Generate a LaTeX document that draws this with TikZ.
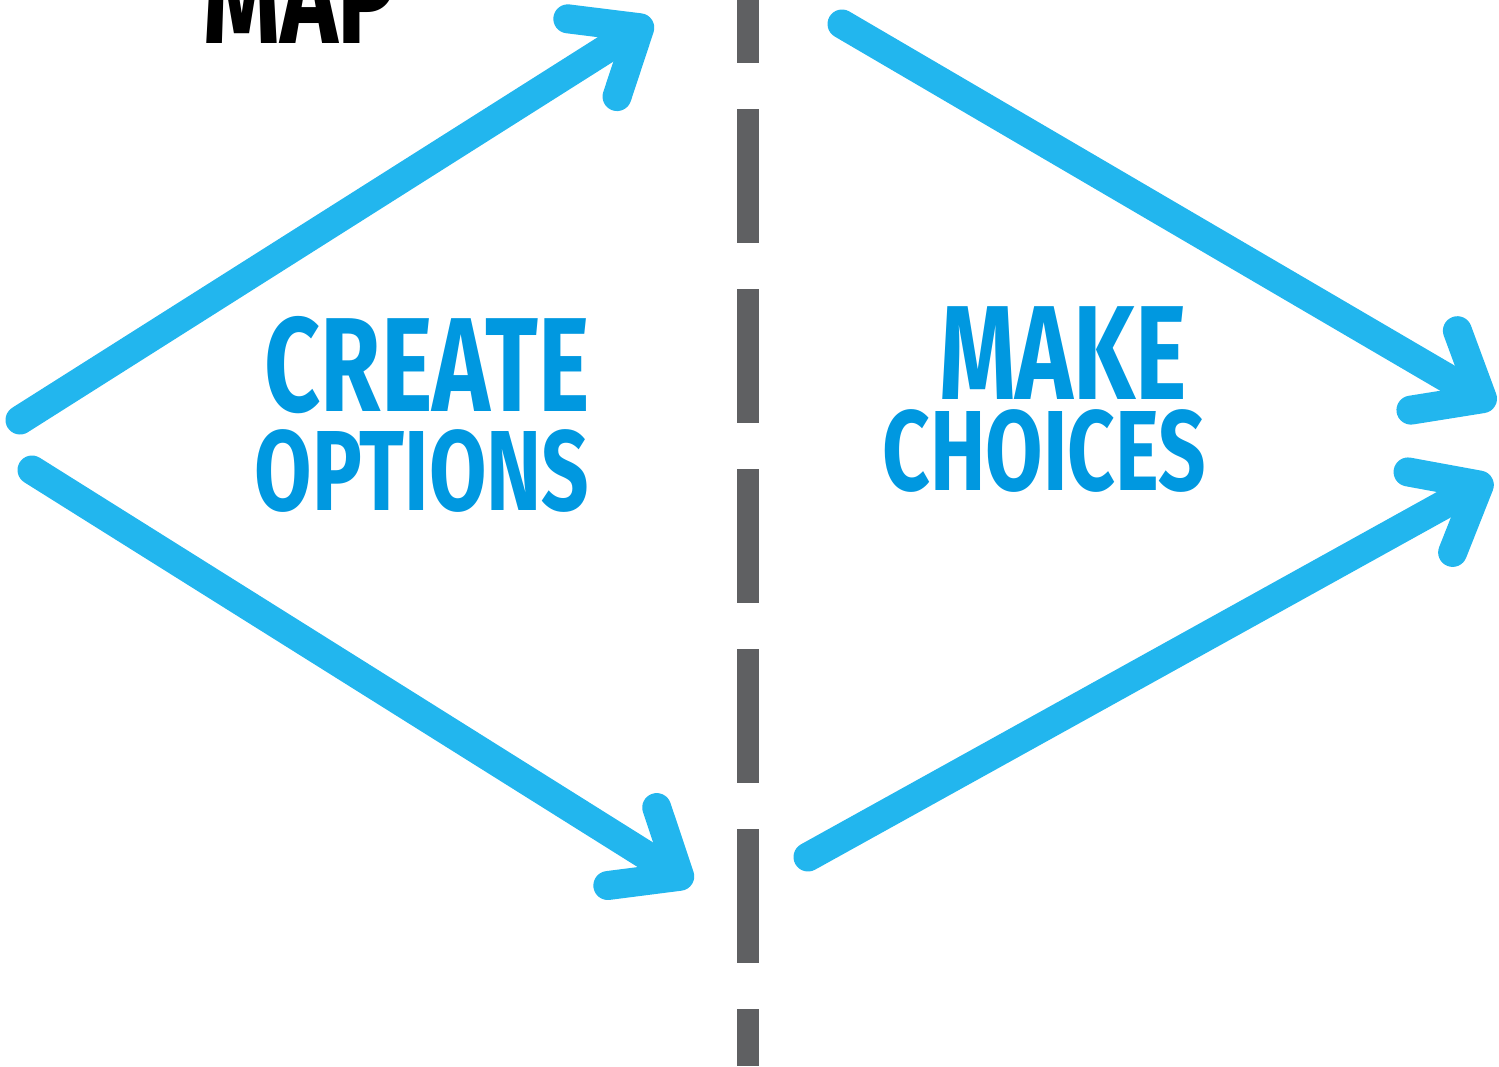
\documentclass[tikz,border=0pt]{standalone}
\usepackage{xcolor}
\usepackage{fontspec}
\newfontfamily\handfont[FakeStretch=0.73]{Fira Sans}
\usepackage{tikz}
\usetikzlibrary{arrows.meta}
\definecolor{arrowblue}{HTML}{22B6EE}
\definecolor{textblue}{HTML}{0098E0}
\definecolor{dashgray}{HTML}{5F6062}
\tikzset{
  bluearrow/.style={
    line width=14.5pt,
    arrowblue,
    line cap=round,
    line join=round,
    -{Straight Barb[length=28pt,width=46pt,round]}
  },
  midline/.style={
    line width=11pt,
    dashgray,
    dash pattern=on 67pt off 23pt,
    dash phase=35.5pt
  },
  bigtext/.style={
    font=\handfont\bfseries\fontsize{67}{67}\selectfont,
    anchor=base,
    text height=46pt,
    text depth=0pt,
    inner sep=0pt
  },
  smalltext/.style={
    font=\handfont\bfseries\fontsize{57}{57}\selectfont,
    anchor=base,
    text height=39pt,
    text depth=0pt,
    inner sep=0pt
  }
}
\begin{document}
\begin{tikzpicture}[x=0.5pt, y=-0.5pt]
\useasboundingbox (0,0) rectangle (1499,1066);
\newcommand\XMid{748}

% divider
\coordinate (D1) at (\XMid,0);
\coordinate (D2) at (\XMid,1066);
\draw[midline] (D1) -- (D2);

% arrow ends
\coordinate (L1) at (20,420);
\coordinate (L2) at (652,20);
\coordinate (L3) at (32,470);
\coordinate (L4) at (692,884);
\coordinate (R1) at (842,24);
\coordinate (R2) at (1495,406);
\coordinate (R3) at (808,857);
\coordinate (R4) at (1492,478);

\draw[bluearrow] (L1) -- (L2);
\draw[bluearrow] (L3) -- (L4);
\draw[bluearrow] (R1) -- (R2);
\draw[bluearrow] (R3) -- (R4);

% labels
\node[bigtext, black] (map) at (300,43) {MAP};
\node[bigtext, textblue] (create) at (427,411) {CREATE};
\node[smalltext, textblue] (options) at (422,510) {OPTIONS};
\node[bigtext, textblue] (make) at (1063,399) {MAKE};
\node[smalltext, textblue] (choices) at (1044,490) {CHOICES};
\end{tikzpicture}
\end{document}
